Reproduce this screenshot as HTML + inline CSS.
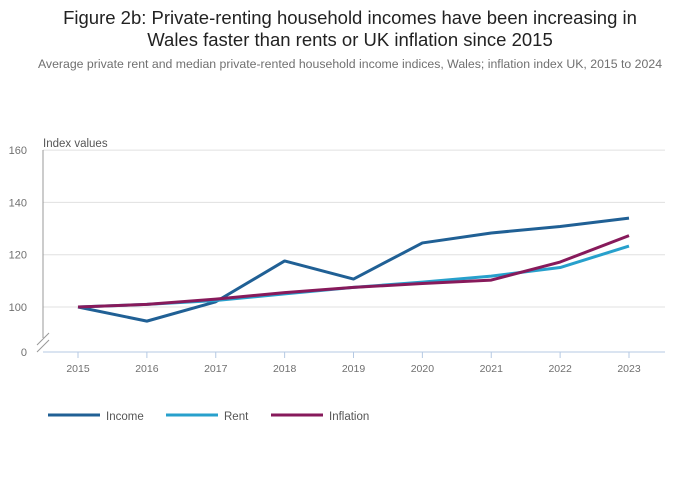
<!DOCTYPE html>
<html><head><meta charset="utf-8"><style>
body{margin:0;background:#fff;font-family:"Liberation Sans",sans-serif;}
#wrap{position:relative;width:700px;height:502px;overflow:hidden;}
h1{position:absolute;left:0;top:7px;width:700px;margin:0;text-align:center;font-weight:normal;font-size:18.5px;line-height:22px;color:#222;}
#sub{position:absolute;left:0;top:57px;width:700px;text-align:center;font-size:12.3px;color:#707070;}
svg{position:absolute;left:0;top:0;}
text{font-family:"Liberation Sans",sans-serif;}
</style></head><body>
<div id="wrap">
<h1>Figure 2b: Private-renting household incomes have been increasing in<br>Wales faster than rents or UK inflation since 2015</h1>
<div id="sub">Average private rent and median private-rented household income indices, Wales; inflation index UK, 2015 to 2024</div>
<svg id="chart" width="700" height="502"></svg>
</div>
<script>
const years=["2015","2016","2017","2018","2019","2020","2021","2022","2023"];
const income=[100,94.6,102,117.6,110.7,124.5,128.3,130.8,134];
const rent=[100,101,102.5,105,107.5,109.5,111.8,115.1,123.3];
const inflation=[100,101,103,105.5,107.5,109,110.3,117.2,127.3];
const yTicks=[0,100,120,140,160];
const seriesNames=["Income","Rent","Inflation"];
const colors=["#206095","#27a0cc","#871a5b"];
const NS="http://www.w3.org/2000/svg";
const svg=document.getElementById('chart');
function x(i){return 78+i*68.875;}
function y(v){return v<=0?352:307-(v-100)*2.615;}
function el(t,a,p){const e=document.createElementNS(NS,t);for(const k in a)e.setAttribute(k,a[k]);(p||svg).appendChild(e);return e;}
// gridlines and y ticks
yTicks.forEach(v=>{
 if(v>0){const g=el('line',{x1:43,x2:665,y1:y(v),y2:y(v),stroke:'#e0e0e0','stroke-width':1});
 
 }
 const t=el('text',{x:27,y:y(v)+4,'text-anchor':'end','font-size':11,fill:'#707070'});
 t.textContent=v;
 
 
});
const ya=el('line',{x1:43,x2:43,y1:150,y2:338,stroke:'#999','stroke-width':1});


const br=el('path',{d:'M37,345 L49,333 M37,352 L49,340',stroke:'#999','stroke-width':1,fill:'none'});


const xa=el('line',{x1:43,x2:665,y1:352,y2:352,stroke:'#b5c9e3','stroke-width':1});


const yt=el('text',{x:43,y:147,'font-size':11.5,fill:'#555'});
yt.textContent='Index values';


years.forEach((yr,i)=>{
 const tk=el('line',{x1:x(i),x2:x(i),y1:352,y2:358,stroke:'#b5c9e3'});
 
 
 const t=el('text',{x:x(i),y:372,'text-anchor':'middle','font-size':10.5,fill:'#707070'});
 t.textContent=yr;
 
 
});
[income,rent,inflation].forEach((s,k)=>{
 const p=el('polyline',{points:s.map((v,i)=>x(i)+','+y(v)).join(' '),fill:'none',stroke:colors[k],'stroke-width':3,'stroke-linejoin':'round'});
 
 
});
// legend
const lx=[48,166,271];
seriesNames.forEach((n,k)=>{
 const g=el('g',{});
 
 
 el('line',{x1:lx[k],x2:lx[k]+52,y1:415,y2:415,stroke:colors[k],'stroke-width':3},g);
 const t=el('text',{x:lx[k]+58,y:420,'font-size':11.5,fill:'#555'},g);
 t.textContent=n;
});
</script>
</body></html>
